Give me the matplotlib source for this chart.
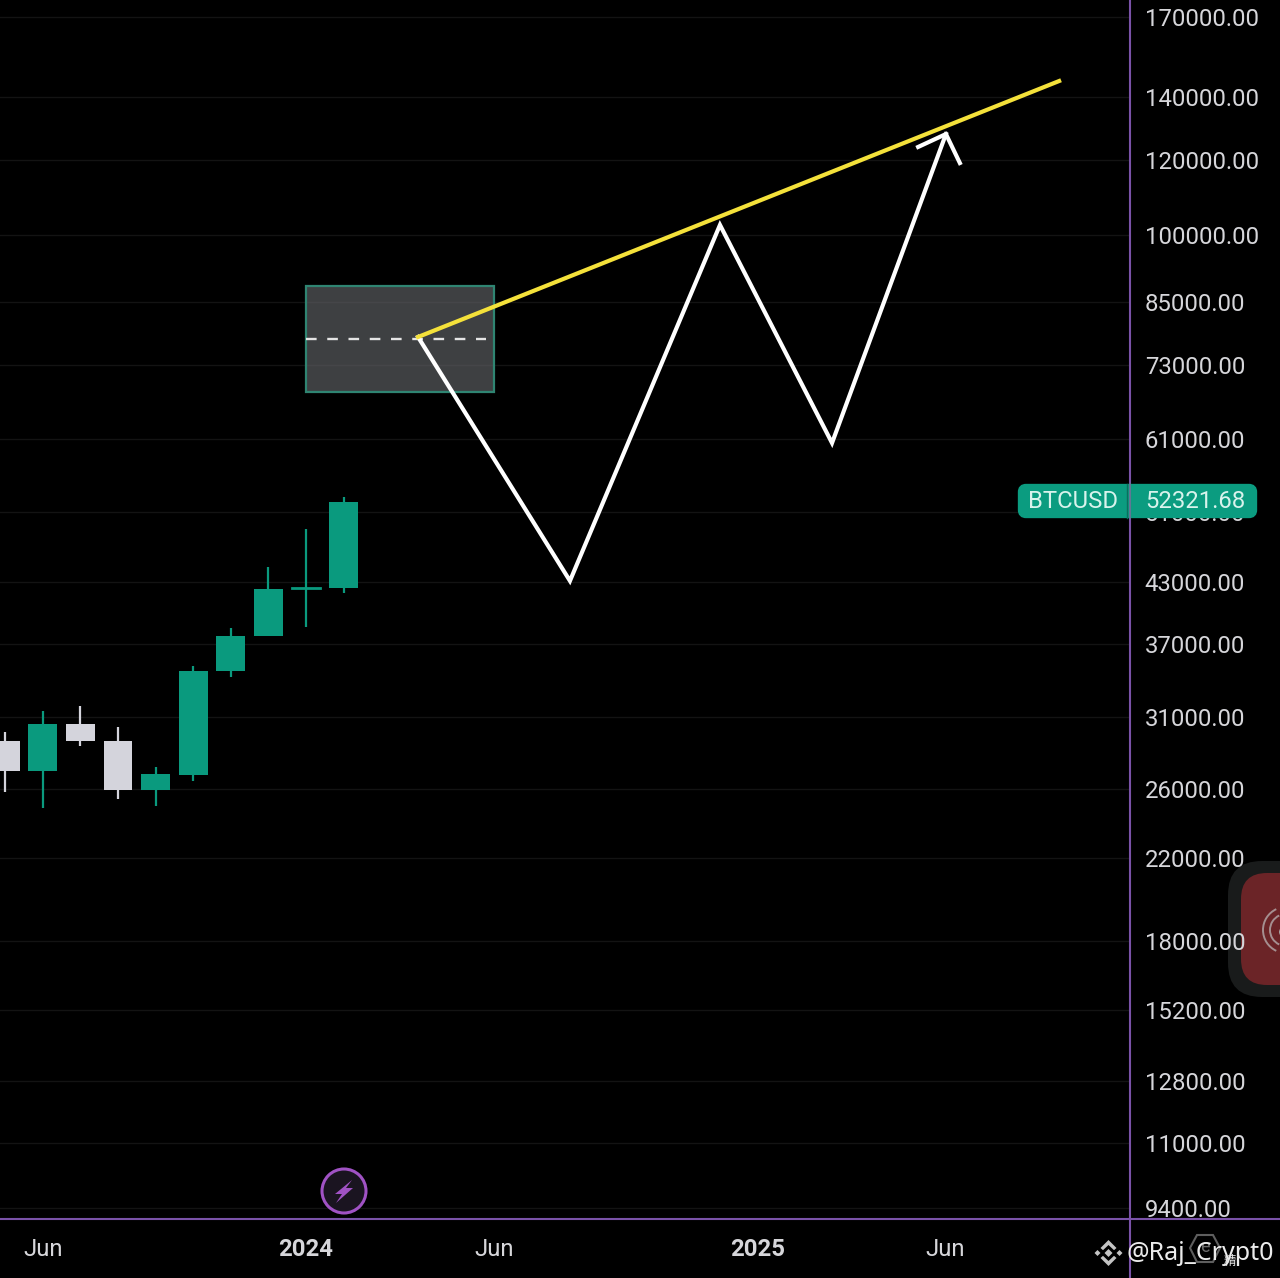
import numpy as np
import matplotlib
matplotlib.use('Agg')
import matplotlib.pyplot as plt
from matplotlib.patches import Rectangle, FancyBboxPatch, Circle, Polygon, Arc

plt.rcParams['font.family'] = ['Roboto', 'DejaVu Sans']

# candles, x = months counted from Jan 2024
months = [-8, -7, -6, -5, -4, -3, -2, -1, 0, 1]
opens = [29270, 27200, 30460, 29270, 25940, 26930, 34640, 37720, 42460, 42460]
highs = [29900, 31480, 31840, 30260, 27470, 35110, 38500, 44680, 49010, 52900]
lows = [25860, 24850, 28900, 25400, 24970, 26560, 34170, 37720, 38620, 41890]
closes = [27200, 30460, 29260, 25940, 26980, 34690, 37740, 42370, 42300, 52321.68]
candle_colors = ['#d4d4dc', '#0a9a7e', '#d4d4dc', '#d4d4dc', '#0a9a7e',
                 '#0a9a7e', '#0a9a7e', '#0a9a7e', '#0a9a7e', '#0a9a7e']

# price scale
price_ticks = [170000, 140000, 120000, 100000, 85000, 73000, 61000, 51000, 43000, 37000,
               31000, 26000, 22000, 18000, 15200, 12800, 11000, 9400]
time_ticks = [-7, 0, 5, 12, 17]
time_labels = ['Jun', '2024', 'Jun', '2025', 'Jun']

# drawings
path_x = [2.98, 7.02, 11.01, 13.99, 17.02]
path_y = [78100, 43170, 102550, 60360, 127900]
head_x = [16.28, 17.02, 17.39]
head_y = [123950, 127900, 119200]
trend_x = [2.98, 20.03]
trend_y = [78100, 145500]
box_x = [0, 5]
box_y = [68300, 88400]
box_mid = 77720

W, H = 1280, 1278
BG = 'black'
TXT = '#d6d6da'
PURPLE = '#7a52a8'

fig = plt.figure(figsize=(W / 100, H / 100), dpi=100, facecolor=BG)

# floating red button goes under the price labels
under = fig.add_axes([0, 0, 1, 1], facecolor='none', zorder=-1)
under.set_xlim(0, W)
under.set_ylim(H, 0)
under.axis('off')
under.add_patch(FancyBboxPatch((1262, 895), 80, 68, boxstyle='round,pad=34,rounding_size=34',
                               facecolor='#191b1b', edgecolor='none'))
under.add_patch(FancyBboxPatch((1267, 899), 60, 60, boxstyle='round,pad=26,rounding_size=26',
                               facecolor='#6b2427', edgecolor='none'))
for r in [16, 23]:
    under.add_patch(Arc((1286, 930), 2 * r, 2 * r, theta1=115, theta2=245, color='#a58f90', lw=1.4))
under.add_patch(Circle((1284, 932), 5, facecolor='#a8a0a0', edgecolor='none'))

ax = fig.add_axes([0, 1 - 1219 / H, 1130 / W, 1219 / H], facecolor=BG)

ax.set_yscale('log')
ax.set_xlim(-306 / 37.6, (1130 - 306) / 37.6)
ax.set_ylim(9400 * np.exp(-11 / 411.4), 170000 * np.exp(17 / 411.4))

for s in ax.spines.values():
    s.set_visible(False)

ax.yaxis.tick_right()
ax.set_yticks(price_ticks)
ax.set_yticklabels([f'{p:.2f}' for p in price_ticks])
ax.minorticks_off()
ax.tick_params(axis='y', length=0, pad=10.6, labelsize=17.2, labelcolor=TXT)
ax.set_xticks(time_ticks)
ax.set_xticklabels(time_labels)
ax.tick_params(axis='x', length=0, pad=13.7, labelsize=17.2, labelcolor=TXT)
for lab in ax.get_xticklabels():
    if lab.get_text().startswith('20'):
        lab.set_fontweight('bold')
ax.grid(axis='y', color='#131313', linewidth=1)
ax.set_axisbelow(True)

# candles
for m, o, h, l, c, col in zip(months, opens, highs, lows, closes, candle_colors):
    ax.plot([m, m], [l, h], color=col, lw=1.6, solid_capstyle='butt', zorder=3)
    ax.bar(m, max(o, c) - min(o, c), bottom=min(o, c), width=0.77, color=col, zorder=4)
# doji body is just a thin line
ax.plot([-0.385, 0.385], [42400, 42400], color='#0a9a7e', lw=2, zorder=4)

# box with dashed mid line
ax.add_patch(Rectangle((box_x[0], box_y[0]), box_x[1] - box_x[0], box_y[1] - box_y[0],
                       facecolor='#616367', alpha=0.65, edgecolor='none', zorder=2))
ax.add_patch(Rectangle((box_x[0], box_y[0]), box_x[1] - box_x[0], box_y[1] - box_y[0],
                       facecolor='none', edgecolor='#2f8572', lw=1.6, zorder=3))
ax.plot([0, 4.8], [box_mid, box_mid], color='#e4e4e4', lw=1.7, dashes=(4.5, 4.5), zorder=4)

ax.plot(path_x, path_y, color='white', lw=3, solid_joinstyle='miter', zorder=6)
ax.plot(head_x, head_y, color='white', lw=3, solid_joinstyle='miter', zorder=6)
ax.plot(trend_x, trend_y, color='#f4e13a', lw=3, zorder=7)

# overlay in pixel coords for frame lines, badge, alert icon, watermark
ov = fig.add_axes([0, 0, 1, 1], facecolor='none')
ov.set_xlim(0, W)
ov.set_ylim(H, 0)
ov.axis('off')

ov.plot([1130, 1130], [0, H], color=PURPLE, lw=1.5)
ov.plot([0, W], [1219, 1219], color=PURPLE, lw=1.5)

ov.add_patch(FancyBboxPatch((1022, 488), 231, 26, boxstyle='round,pad=0,rounding_size=4',
                            mutation_aspect=1, facecolor='#0b9c80', edgecolor='#0b9c80', lw=6))
ov.plot([1127, 1127], [484, 518], color='#0a6f5d', lw=1)
ov.plot([1130, 1130], [484, 518], color='#5a7f90', lw=1.2)
ov.text(1072.5, 502, 'BTCUSD', color='#d8f3ec', fontsize=17.2, ha='center', va='center')
ov.text(1195.5, 502, '52321.68', color='#d8f3ec', fontsize=17.2, ha='center', va='center')

# alert button at the bottom
ov.add_patch(Circle((344, 1191), 22, facecolor='#1a1420', edgecolor='#a052c4', lw=2.2))
ov.add_patch(Polygon([(352, 1180), (335, 1194), (342, 1194), (336, 1203), (353, 1188), (346, 1188)],
                     closed=True, facecolor='#a052c4', edgecolor='none'))

# watermark
ov.add_patch(Polygon([(1197, 1235), (1213, 1235), (1220, 1248), (1213, 1262), (1197, 1262), (1190, 1248)],
                     closed=True, facecolor='none', edgecolor='#5e5e5e', lw=1.5))
ov.text(1205, 1247, 'e', color='#6a6a6a', fontsize=13, ha='center', va='center')

cx, cy = 1108.5, 1253
icon = '#c4c4c4'
ov.add_patch(Polygon([(cx, cy - 4), (cx + 4, cy), (cx, cy + 4), (cx - 4, cy)], closed=True, facecolor=icon, edgecolor='none'))
for sx in [-1, 1]:
    ov.add_patch(Polygon([(cx + sx * 11, cy - 3), (cx + sx * 14, cy), (cx + sx * 11, cy + 3), (cx + sx * 8, cy)],
                         closed=True, facecolor=icon, edgecolor='none'))
    ov.add_patch(Polygon([(cx, cy + sx * 13), (cx + 8, cy + sx * 5), (cx + 5.5, cy + sx * 2.8), (cx, cy + sx * 8),
                          (cx - 5.5, cy + sx * 2.8), (cx - 8, cy + sx * 5)],
                         closed=True, facecolor=icon, edgecolor='none'))

ov.text(1127, 1254, '@Raj_Crypt0', color='#ebebeb', fontsize=18, ha='left', va='center',
        family=['Noto Sans', 'DejaVu Sans'])
ov.text(1230, 1261, '精', color='#ebebeb', fontsize=9, ha='center', va='center',
        family=['Noto Sans CJK SC', 'DejaVu Sans'])

fig.savefig('out.png', dpi=100, facecolor=BG)
